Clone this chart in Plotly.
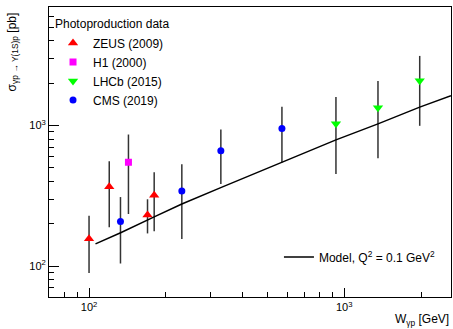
import plotly.graph_objects as go

# ---- data ----
zeus_w = [100, 120, 169.5, 180]
zeus_s = [157, 367, 231, 319]
zeus_up = [228, 557, 299, 465]
zeus_dn = [89.6, 189, 171, 177]

h1_w = [142.7]
h1_s = [548]
h1_up = [863]
h1_dn = [235]

lhcb_w = [928, 1356, 1976]
lhcb_s = [1028, 1337, 2083]
lhcb_up = [1594, 2073, 3124]
lhcb_dn = [453, 586, 995]

cms_w = [132.8, 231, 328.5, 570]
cms_s = [208, 342, 661, 952]
cms_up = [310, 531, 936, 1360]
cms_dn = [104.5, 156, 384, 545]

model_w = [106, 133, 180, 231, 330, 467, 570, 928, 1356, 1976, 2620]
model_s = [144, 173, 224, 277, 363, 470, 545, 791, 1028, 1352, 1626]

x_major = [100, 1000]
x_major_text = ["10<sup>2</sup>", "10<sup>3</sup>"]
x_minor = [80, 90, 200, 300, 400, 500, 600, 700, 800, 900, 2000]
y_major = [100, 1000]
y_major_text = ["10<sup>2</sup>", "10<sup>3</sup>"]
y_minor = [70, 80, 90, 200, 300, 400, 500, 600, 700, 800, 900,
           2000, 3000, 4000, 5000, 6000]

FONT = "Liberation Sans, Arial, Helvetica, sans-serif"


def errs(vals, up, dn):
    plus = [u - v for u, v in zip(up, vals)]
    minus = [v - d for v, d in zip(vals, dn)]
    return dict(type="data", symmetric=False, array=plus, arrayminus=minus,
                color="#333333", thickness=1.5, width=0)


fig = go.Figure()

series = [
    ("ZEUS (2009)", zeus_w, zeus_s, zeus_up, zeus_dn, "triangle-up", "#ff0000", 9),
    ("H1 (2000)", h1_w, h1_s, h1_up, h1_dn, "square", "#ff00ff", 7),
    ("LHCb (2015)", lhcb_w, lhcb_s, lhcb_up, lhcb_dn, "triangle-down", "#00ff00", 9),
    ("CMS (2019)", cms_w, cms_s, cms_up, cms_dn, "circle", "#0000ff", 7),
]
for name, w, s, up, dn, sym, col, sz in series:
    fig.add_trace(go.Scatter(
        x=w, y=s, mode="markers", name=name,
        marker=dict(symbol=sym, color=col, size=sz, line=dict(width=0)),
        error_y=errs(s, up, dn), legend="legend",
    ))

fig.add_trace(go.Scatter(
    x=model_w, y=model_s, mode="lines", name="Model, Q<sup>2</sup> = 0.1 GeV<sup>2</sup>",
    line=dict(color="black", width=1.5), legend="legend2",
))

fig.update_layout(
    width=453, height=329,
    margin=dict(l=49, r=2, t=7, b=32),
    paper_bgcolor="white", plot_bgcolor="white",
    font=dict(family=FONT, size=11, color="black"),
    legend=dict(
        title=dict(text="Photoproduction data", font=dict(size=12)),
        x=0.01, y=0.98, xanchor="left", yanchor="top",
        bgcolor="rgba(0,0,0,0)", font=dict(size=12),
        itemwidth=30, tracegroupgap=0, itemsizing="trace",
    ),
    legend2=dict(
        x=0.975, y=0.138, xanchor="right", yanchor="middle",
        bgcolor="rgba(0,0,0,0)", font=dict(size=12),
    ),
    xaxis=dict(
        type="log", range=[1.8431, 3.4184],
        tickmode="array", tickvals=x_major, ticktext=x_major_text,
        ticks="inside", ticklen=9, tickwidth=1, tickcolor="black",
        showline=True, linecolor="black", linewidth=1, mirror=True,
        showgrid=False, zeroline=False,
        tickfont=dict(size=11),
        minor=dict(tickmode="array", tickvals=x_minor, ticks="inside",
                   ticklen=5, tickcolor="black", showgrid=False),
    ),
    yaxis=dict(
        type="log", range=[1.781, 3.8425],
        tickmode="array", tickvals=y_major, ticktext=y_major_text,
        ticks="inside", ticklen=10, tickwidth=1, tickcolor="black",
        showline=True, linecolor="black", linewidth=1, mirror=True,
        showgrid=False, zeroline=False,
        tickfont=dict(size=11),
        minor=dict(tickmode="array", tickvals=y_minor, ticks="inside",
                   ticklen=5, tickcolor="black", showgrid=False),
    ),
    annotations=[
        dict(text="W<sub>γp</sub> [GeV]", xref="paper", yref="paper",
             x=1.0, y=-0.079, xanchor="right", yanchor="middle",
             showarrow=False, font=dict(size=12)),
        dict(text="σ<sub>γp → Υ(1S)p</sub> [pb]", xref="paper", yref="paper",
             x=-0.0896, y=0.99, xanchor="center", yanchor="top", textangle=-90,
             showarrow=False, font=dict(size=12)),
    ],
)

fig.write_html("out.html", config={"displayModeBar": False},
               post_script="document.body.style.margin='0';document.body.style.padding='0';")
